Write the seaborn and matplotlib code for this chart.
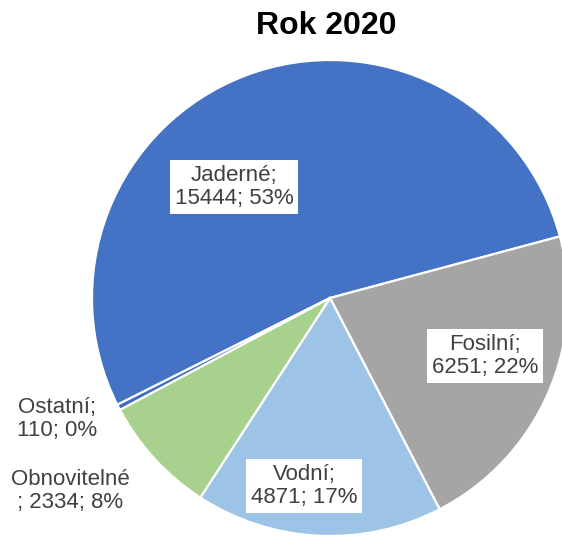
import matplotlib
matplotlib.use("Agg")
import matplotlib.pyplot as plt
import seaborn as sns

# Electricity generation by source, 2020 (GWh)
sources = ["Jaderné", "Fosilní", "Vodní", "Obnovitelné", "Ostatní"]
values = [15444, 6251, 4871, 2334, 110]
percents = [53, 22, 17, 8, 0]
colors = ["#4472C4", "#A5A5A5", "#9DC3E6", "#A9D18E", "#3F6CBF"]
title = "Rok 2020"

sns.set_theme(style="white")
plt.rcParams["font.family"] = ["Liberation Sans", "DejaVu Sans"]

W, H, DPI = 562, 536, 100
fig = plt.figure(figsize=(W / DPI, H / DPI), dpi=DPI)
ax = fig.add_axes([0, 0, 1, 1])

# pie centre sits at (330, 298) px with radius 238 px
cx, cy, R = 330, 298, 238

# first slice begins in the lower-left and runs clockwise
total = sum(values)
first_end_from_top = 75.0
start_from_top = first_end_from_top - values[0] / total * 360.0
ax.pie(values, colors=colors, startangle=90 - start_from_top, counterclock=False,
       radius=1.0, center=(0, 0), frame=True,
       wedgeprops=dict(edgecolor="white", linewidth=1.6))
ax.set_xlim(-cx / R, (W - cx) / R)
ax.set_ylim(-(H - cy) / R, cy / R)
ax.set_aspect("auto")
ax.set_axis_off()

# label placement (in pie radius units) and whether a white box is drawn
label_pos = [(-0.403, 0.466), (0.651, -0.244), (-0.109, -0.790),
             (-1.092, -0.811), (-1.147, -0.508)]
boxed = [True, True, True, False, False]

for name, v, p, (lx, ly), b in zip(sources, values, percents, label_pos, boxed):
    if name == "Obnovitelné":
        txt = f"{name}\n; {v}; {p}%"
    else:
        txt = f"{name};\n{v}; {p}%"
    kw = {}
    if b:
        kw["bbox"] = dict(boxstyle="square,pad=0.22", fc="white", ec="none")
    ax.text(lx, ly, txt, ha="center", va="center", fontsize=16,
            color="#404040", linespacing=1.1, **kw)

ax.text((326 - cx) / R, (cy - 26) / R, title, ha="center", va="center",
        fontsize=23, fontweight="bold", color="black")

fig.savefig("out.png", dpi=DPI)
